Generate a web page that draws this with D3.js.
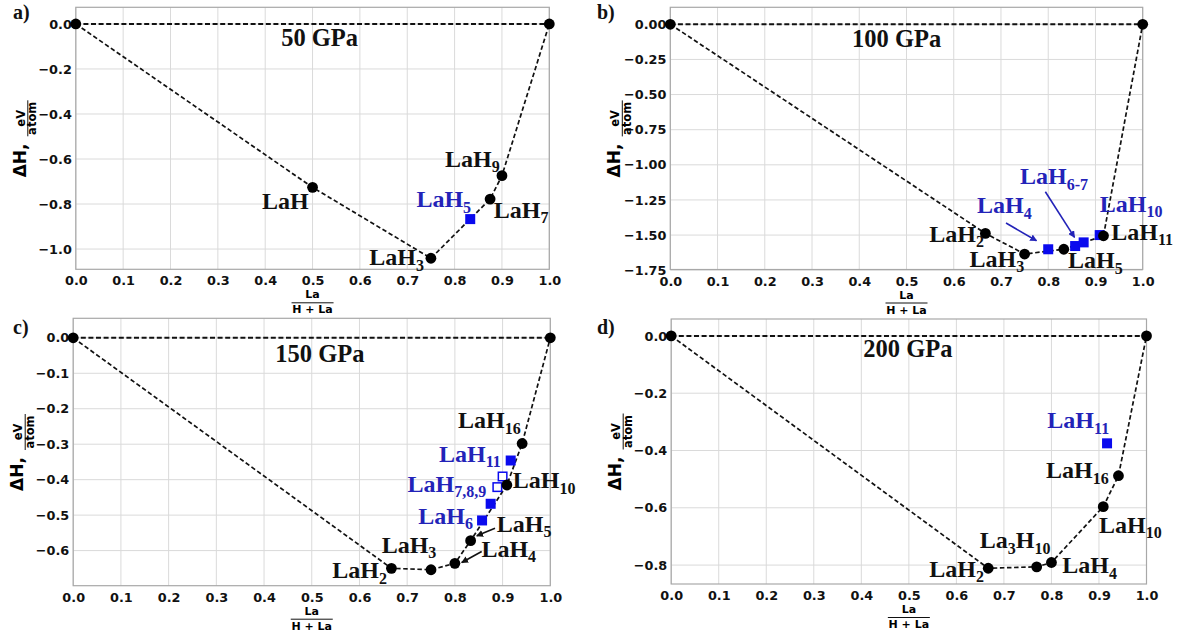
<!DOCTYPE html>
<html><head><meta charset="utf-8">
<script src="https://cdn.jsdelivr.net/npm/d3@7"></script>
<style>body{margin:0;background:#fff}</style>
</head><body>
<svg id="chart" width="1191" height="635"></svg>
<script>
// ================= DATA =================
const xTicks = [0, 0.1, 0.2, 0.3, 0.4, 0.5, 0.6, 0.7, 0.8, 0.9, 1.0];
const pressures = ["50 GPa", "100 GPa", "150 GPa", "200 GPa"];
const panelLetters = ["a)", "b)", "c)", "d)"];

// Panel a — 50 GPa
const aStableX = [0, 0.5, 0.75, 0.875, 0.9, 1];
const aStableY = [0, -0.726, -1.041, -0.778, -0.674, 0];
const aStableNames = ["", "LaH", "LaH_3", "LaH_7", "LaH_9", ""];
const aMetaX = [0.833];
const aMetaY = [-0.867];
const aMetaNames = ["LaH_5"];
const aOpenX = [];
const aOpenY = [];
const aYTicks = [0, -0.2, -0.4, -0.6, -0.8, -1.0];
const aYLim = [-1.090, 0.074];

// Panel b — 100 GPa
const bStableX = [0, 0.667, 0.75, 0.833, 0.917, 1];
const bStableY = [0, -1.488, -1.635, -1.601, -1.505, 0];
const bStableNames = ["", "LaH_2", "LaH_3", "LaH_5", "LaH_11", ""];
const bMetaX = [0.8, 0.857, 0.875, 0.909];
const bMetaY = [-1.601, -1.578, -1.552, -1.500];
const bMetaNames = ["LaH_4", "LaH_6-7", "", "LaH_10"];
const bOpenX = [];
const bOpenY = [];
const bYTicks = [0, -0.25, -0.5, -0.75, -1.0, -1.25, -1.5, -1.75];
const bYLim = [-1.745, 0.121];

// Panel c — 150 GPa
const cStableX = [0, 0.667, 0.75, 0.8, 0.833, 0.909, 0.941, 1];
const cStableY = [0, -0.650, -0.654, -0.636, -0.572, -0.415, -0.298, 0];
const cStableNames = ["", "LaH_2", "LaH_3", "LaH_4", "LaH_5", "LaH_10", "LaH_16", ""];
const cMetaX = [0.857, 0.875, 0.917];
const cMetaY = [-0.515, -0.468, -0.346];
const cMetaNames = ["LaH_6", "LaH_7,8,9", "LaH_11"];
const cOpenX = [0.889, 0.9];
const cOpenY = [-0.421, -0.391];
const cYTicks = [0, -0.1, -0.2, -0.3, -0.4, -0.5, -0.6];
const cYLim = [-0.699, 0.055];

// Panel d — 200 GPa
const dStableX = [0, 0.667, 0.769, 0.8, 0.909, 0.941, 1];
const dStableY = [0, -0.811, -0.806, -0.791, -0.596, -0.488, 0];
const dStableNames = ["", "LaH_2", "La_3H_10", "LaH_4", "LaH_10", "LaH_16", ""];
const dMetaX = [0.917];
const dMetaY = [-0.375];
const dMetaNames = ["LaH_11"];
const dOpenX = [];
const dOpenY = [];
const dYTicks = [0, -0.2, -0.4, -0.6, -0.8];
const dYLim = [-0.866, 0.059];

// ================= LAYOUT (pixels) =================
const layout = [
  {box: {l: 75.8, r: 549.3, t: 7.3, b: 269.3}, yFmt: ".1f", titleX: 0.515, titleBase: 46, letter: [13, 19],
   labels: {"LaH": [-50.6, 21.6], "LaH_3": [-61.6, 6.8], "LaH_5": [-53.8, -11.8], "LaH_7": [3.6, 18.9], "LaH_9": [-57, -8.7]},
   arrows: {}},
  {box: {l: 670.3, r: 1142.7, t: 7.3, b: 269.5}, yFmt: ".2f", titleX: 0.479, titleBase: 46.7, letter: [597, 19],
   labels: {"LaH_2": [-56.2, 8.3], "LaH_3": [-55.1, 12.7], "LaH_5": [4.2, 18.8], "LaH_11": [7.8, 4.2],
            "LaH_4": [-71.2, -35.9], "LaH_6-7": [-55.1, -62], "LaH_10": [0.1, -23.3]},
   arrows: {"LaH_4": [-42.2, -26.2, -11.7, -8.5], "LaH_6-7": [-29.8, -54.3, -0.6, -8.7]}},
  {box: {l: 73.2, r: 550.3, t: 318.3, b: 585.7}, yFmt: ".1f", titleX: 0.517, titleBase: 361.7, letter: [13, 334],
   labels: {"LaH_2": [-59.2, 9.8], "LaH_3": [-49.4, -17.2], "LaH_4": [26.5, -6.8], "LaH_5": [26.1, -9.1],
            "LaH_10": [5.9, 3.3], "LaH_16": [-64.2, -15.2], "LaH_6": [-63.8, 3.5], "LaH_7,8,9": [-83.1, -12.1], "LaH_11": [-71.7, 1.2]},
   arrows: {"LaH_4": [26.8, -11.8, 6.8, -0.8], "LaH_5": [24.4, -12.5, 6.1, -4.8]}},
  {box: {l: 671.2, r: 1146.5, t: 319, b: 584}, yFmt: ".1f", titleX: 0.498, titleBase: 356.7, letter: [597, 334],
   labels: {"LaH_2": [-59, 8.5], "La_3H_10": [-56.9, -18.4], "LaH_4": [10.8, 10.9], "LaH_10": [-4.2, 26.1],
            "LaH_16": [-72.4, 2.6], "LaH_11": [-59.7, -15]},
   arrows: {}}
];

const panelData = [
  {sX: aStableX, sY: aStableY, sN: aStableNames, mX: aMetaX, mY: aMetaY, mN: aMetaNames, oX: aOpenX, oY: aOpenY, yTicks: aYTicks, yLim: aYLim},
  {sX: bStableX, sY: bStableY, sN: bStableNames, mX: bMetaX, mY: bMetaY, mN: bMetaNames, oX: bOpenX, oY: bOpenY, yTicks: bYTicks, yLim: bYLim},
  {sX: cStableX, sY: cStableY, sN: cStableNames, mX: cMetaX, mY: cMetaY, mN: cMetaNames, oX: cOpenX, oY: cOpenY, yTicks: cYTicks, yLim: cYLim},
  {sX: dStableX, sY: dStableY, sN: dStableNames, mX: dMetaX, mY: dMetaY, mN: dMetaNames, oX: dOpenX, oY: dOpenY, yTicks: dYTicks, yLim: dYLim}
];

// ================= DRAW =================
const svg = d3.select("#chart");
const SANS = "'DejaVu Sans', sans-serif";
const SERIF = "'Liberation Serif', 'Times New Roman', serif";
const BLUE_MARK = "#0a0aee";
const BLUE_TEXT = "#2323b8";
const LABEL_SIZE = 24, SUB_SIZE = 16, SUB_SHIFT = 5.5;

const defs = svg.append("defs");
function arrowMarker(id, color) {
  defs.append("marker").attr("id", id).attr("viewBox", "0 0 10 10")
    .attr("refX", 9).attr("refY", 5).attr("markerWidth", 7).attr("markerHeight", 7)
    .attr("markerUnits", "userSpaceOnUse").attr("orient", "auto")
    .append("path").attr("d", "M0,0 L10,5 L0,10 z").attr("fill", color);
}
arrowMarker("arrBlue", BLUE_TEXT);
arrowMarker("arrBlack", "#111");

function chemLabel(g, name, x, y, color) {
  const t = g.append("text").attr("x", x).attr("y", y)
    .attr("font-family", SERIF).attr("font-weight", "bold")
    .attr("font-size", LABEL_SIZE).attr("fill", color);
  const parts = name.split(/(_[0-9,\-]+)/).filter(s => s.length);
  let shifted = false;
  parts.forEach(p => {
    if (p[0] === "_") {
      t.append("tspan").attr("font-size", SUB_SIZE).attr("dy", SUB_SHIFT).text(p.slice(1));
      shifted = true;
    } else {
      t.append("tspan").attr("dy", shifted ? -SUB_SHIFT : 0).text(p);
      shifted = false;
    }
  });
}

panelData.forEach((pd, i) => {
  const L = layout[i];
  const B = L.box;
  const x = d3.scaleLinear().domain([0, 1]).range([B.l, B.r]);
  const y = d3.scaleLinear().domain(pd.yLim).range([B.b, B.t]);
  const g = svg.append("g");

  // grid
  g.selectAll(".gx").data(xTicks).enter().append("line")
    .attr("x1", d => x(d)).attr("x2", d => x(d)).attr("y1", B.t).attr("y2", B.b)
    .attr("stroke", "#dadada").attr("stroke-width", 1);
  g.selectAll(".gy").data(pd.yTicks).enter().append("line")
    .attr("x1", B.l).attr("x2", B.r).attr("y1", d => y(d)).attr("y2", d => y(d))
    .attr("stroke", "#dadada").attr("stroke-width", 1);

  // frame
  g.append("rect").attr("x", B.l).attr("y", B.t).attr("width", B.r - B.l).attr("height", B.b - B.t)
    .attr("fill", "none").attr("stroke", "#a8a8a8").attr("stroke-width", 1.2);

  // axes (tick labels)
  const xAxis = d3.axisBottom(x).tickValues(xTicks).tickFormat(d3.format(".1f")).tickSize(0).tickPadding(7);
  const gx = g.append("g").attr("transform", `translate(0,${B.b})`).call(xAxis);
  gx.select(".domain").remove();
  gx.selectAll("text").attr("font-family", SANS).attr("font-weight", "bold").attr("font-size", 12.8).attr("fill", "#111");

  const yAxis = d3.axisLeft(y).tickValues(pd.yTicks).tickFormat(d3.format(L.yFmt)).tickSize(0).tickPadding(4);
  const gy = g.append("g").attr("transform", `translate(${B.l},0)`).call(yAxis);
  gy.select(".domain").remove();
  gy.selectAll("text").attr("font-family", SANS).attr("font-weight", "bold").attr("font-size", 12.8).attr("fill", "#111");

  // x-axis label: La / (H + La)
  const cx = (B.l + B.r) / 2;
  g.append("text").attr("x", cx).attr("y", B.b + 29).attr("text-anchor", "middle")
    .attr("font-family", SANS).attr("font-weight", "bold").attr("font-size", 11).text("La");
  g.append("line").attr("x1", cx - 21).attr("x2", cx + 21).attr("y1", B.b + 33.5).attr("y2", B.b + 33.5)
    .attr("stroke", "#111").attr("stroke-width", 1);
  g.append("text").attr("x", cx).attr("y", B.b + 44).attr("text-anchor", "middle")
    .attr("font-family", SANS).attr("font-weight", "bold").attr("font-size", 11).text("H + La");

  // y-axis label: ΔH, eV/atom
  const yl = g.append("g").attr("transform", `translate(${B.l - 50},${(B.t + B.b) / 2}) rotate(-90)`);
  yl.append("text").attr("x", -39).attr("y", 0)
    .attr("font-family", SANS).attr("font-weight", "bold").attr("font-size", 17).text("ΔH,");
  yl.append("text").attr("x", 20).attr("y", -1).attr("text-anchor", "middle")
    .attr("font-family", SANS).attr("font-weight", "bold").attr("font-size", 11.5).text("eV");
  yl.append("line").attr("x1", 2).attr("x2", 38).attr("y1", 2).attr("y2", 2)
    .attr("stroke", "#111").attr("stroke-width", 1);
  yl.append("text").attr("x", 20).attr("y", 10.5).attr("text-anchor", "middle")
    .attr("font-family", SANS).attr("font-weight", "bold").attr("font-size", 11.5).text("atom");

  // reference line at 0
  g.append("line").attr("x1", x(0)).attr("x2", x(1)).attr("y1", y(0)).attr("y2", y(0))
    .attr("stroke", "#111").attr("stroke-width", 2).attr("stroke-dasharray", "5,2.6");

  // convex hull (stable phases)
  const pts = pd.sX.map((v, k) => [v, pd.sY[k]]);
  const line = d3.line().x(d => x(d[0])).y(d => y(d[1]));
  g.append("path").attr("d", line(pts)).attr("fill", "none")
    .attr("stroke", "#111").attr("stroke-width", 1.7).attr("stroke-dasharray", "4.5,2.6");

  // metastable squares
  const S = 10;
  pd.mX.forEach((v, k) => {
    g.append("rect").attr("x", x(v) - S / 2).attr("y", y(pd.mY[k]) - S / 2)
      .attr("width", S).attr("height", S).attr("fill", BLUE_MARK);
  });
  pd.oX.forEach((v, k) => {
    g.append("rect").attr("x", x(v) - S / 2 + 0.75).attr("y", y(pd.oY[k]) - S / 2 + 0.75)
      .attr("width", S - 1.5).attr("height", S - 1.5).attr("fill", "#fff")
      .attr("stroke", BLUE_MARK).attr("stroke-width", 1.5);
  });

  // stable circles
  pts.forEach(p => {
    g.append("circle").attr("cx", x(p[0])).attr("cy", y(p[1])).attr("r", 5.4).attr("fill", "#000");
  });

  // arrows
  function drawArrow(px, py, a, color, id) {
    g.append("line").attr("x1", px + a[0]).attr("y1", py + a[1]).attr("x2", px + a[2]).attr("y2", py + a[3])
      .attr("stroke", color).attr("stroke-width", 1.6).attr("marker-end", `url(#${id})`);
  }

  // labels
  pd.sN.forEach((n, k) => {
    if (!n || !L.labels[n]) return;
    const px = x(pd.sX[k]), py = y(pd.sY[k]);
    chemLabel(g, n, px + L.labels[n][0], py + L.labels[n][1], "#111");
    if (L.arrows[n]) drawArrow(px, py, L.arrows[n], "#111", "arrBlack");
  });
  pd.mN.forEach((n, k) => {
    if (!n || !L.labels[n]) return;
    const px = x(pd.mX[k]), py = y(pd.mY[k]);
    chemLabel(g, n, px + L.labels[n][0], py + L.labels[n][1], BLUE_TEXT);
    if (L.arrows[n]) drawArrow(px, py, L.arrows[n], BLUE_TEXT, "arrBlue");
  });

  // title (pressure)
  g.append("text").attr("x", x(L.titleX)).attr("y", L.titleBase).attr("text-anchor", "middle")
    .attr("font-family", SERIF).attr("font-weight", "bold").attr("font-size", 24.5).attr("fill", "#111")
    .text(pressures[i]);

  // panel letter
  svg.append("text").attr("x", L.letter[0]).attr("y", L.letter[1])
    .attr("font-family", SERIF).attr("font-weight", "bold").attr("font-size", 20).attr("fill", "#111")
    .text(panelLetters[i]);
});
</script>
</body></html>
